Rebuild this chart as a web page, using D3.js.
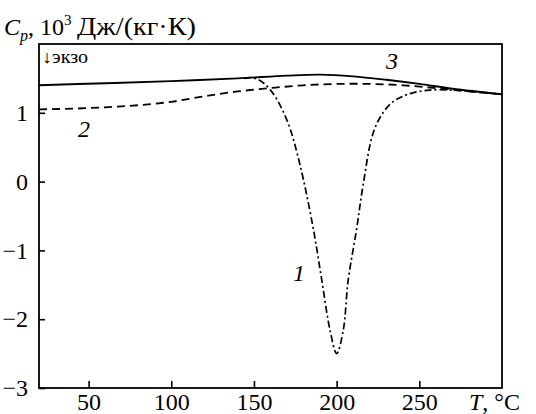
<!DOCTYPE html>
<html><head><meta charset="utf-8">
<script src="https://cdn.jsdelivr.net/npm/d3@7"></script>
<style>body{margin:0;background:#fff}svg{display:block}</style>
</head><body><svg id="c" width="536" height="414"></svg>
<script>
const xTicks = [50, 100, 150, 200, 250];
const yTicks = [-3, -2, -1, 0, 1];
// curve 3 (solid)
const t3 = [20, 60, 100, 140, 170, 190, 210, 230, 250, 270, 300];
const v3 = [1.40, 1.43, 1.46, 1.50, 1.54, 1.555, 1.53, 1.48, 1.42, 1.35, 1.27];
// curve 2 (dashed)
const t2 = [20, 40, 60, 80, 100, 120, 140, 160, 180, 200, 220, 240, 260, 280, 300];
const v2 = [1.05, 1.06, 1.08, 1.11, 1.16, 1.24, 1.31, 1.36, 1.40, 1.42, 1.42, 1.40, 1.36, 1.31, 1.27];
// curve 1 (dash-dot)
const t1 = [144, 148, 152, 156, 160, 164, 168, 172, 176, 180, 186, 191, 196, 200, 204, 207, 212, 216, 222, 228, 234, 240, 246, 256, 270, 285, 300];
const v1 = [1.50, 1.51, 1.49, 1.43, 1.33, 1.19, 1.00, 0.76, 0.42, 0.02, -0.70, -1.43, -2.16, -2.50, -2.16, -1.43, -0.70, -0.05, 0.70, 1.00, 1.16, 1.24, 1.29, 1.33, 1.33, 1.30, 1.27];

const svg = d3.select('#c');
const L = 39, R = 502, T = 44, B = 388;
const x = d3.scaleLinear().domain([20, 300]).range([L, R]);
const y = d3.scaleLinear().domain([-3, 2]).range([B, T]);
const font = "'Liberation Serif'";

// frame
svg.append('rect').attr('x', L).attr('y', T).attr('width', R - L).attr('height', B - T)
  .attr('fill', 'none').attr('stroke', '#000').attr('stroke-width', 1.8);

// axes
const xa = svg.append('g').attr('transform', `translate(0,${B})`)
  .call(d3.axisBottom(x).tickValues(xTicks).tickSize(-7).tickPadding(5).tickFormat(d3.format('d')));
const ya = svg.append('g').attr('transform', `translate(${L},0)`)
  .call(d3.axisLeft(y).tickValues(yTicks).tickSize(-6).tickPadding(10).tickFormat(d => d < 0 ? '\u2212' + Math.abs(d) : d));
[xa, ya].forEach(g => {
  g.attr('font-family', null).attr('font-size', null);
  g.select('.domain').remove();
  g.selectAll('line').attr('stroke', '#000').attr('stroke-width', 1.6);
  g.selectAll('text').style('font-family', font).style('font-size', '24px').attr('fill', '#000');
});
ya.selectAll('text').attr('x', -11);

const line = d3.line().x(d => x(d[0])).y(d => y(d[1])).curve(d3.curveCatmullRom.alpha(0.5));
const z = (a, b) => a.map((t, i) => [t, b[i]]);

svg.append('path').datum(z(t1, v1)).attr('d', line).attr('fill', 'none').attr('stroke', '#000')
  .attr('stroke-width', 1.7).attr('stroke-dasharray', '7,3,2,3');
svg.append('path').datum(z(t2, v2)).attr('d', line).attr('fill', 'none').attr('stroke', '#000')
  .attr('stroke-width', 1.8).attr('stroke-dasharray', '8,5');
svg.append('path').datum(z(t3, v3)).attr('d', line).attr('fill', 'none').attr('stroke', '#000')
  .attr('stroke-width', 1.9);

// y title
const yt = svg.append('text').attr('x', 4).attr('y', 35).style('font-family', font).style('font-size', '24px').attr('fill', '#000');
yt.append('tspan').attr('font-style', 'italic').text('C');
yt.append('tspan').attr('font-style', 'italic').style('font-size', '16px').attr('dy', 6).text('p');
yt.append('tspan').attr('dy', -6).text(', 10');
yt.append('tspan').style('font-size', '15px').attr('dy', -10).text('3');
svg.append('text').attr('x', 77).attr('y', 35).style('font-family', font).style('font-size', '26px')
  .attr('textLength', 119).attr('lengthAdjust', 'spacingAndGlyphs').text('Дж/(кг·К)');

// exo label
svg.append('text').attr('x', 42).attr('y', 63).style('font-family', font).style('font-size', '18px')
  .attr('textLength', 46).attr('lengthAdjust', 'spacingAndGlyphs').text('↓экзо');

// x title
const xt = svg.append('text').attr('x', 469).attr('y', 410).style('font-family', font).style('font-size', '24px');
xt.append('tspan').attr('font-style', 'italic').text('T');
xt.append('tspan').text(', °C');

// curve labels
const lab = [['3', 386, 69], ['2', 78, 137], ['1', 293, 281]];
lab.forEach(([s, px, py]) => svg.append('text').attr('x', px).attr('y', py).style('font-family', font)
  .attr('font-style', 'italic').style('font-size', '24px').text(s));
</script></body></html>
